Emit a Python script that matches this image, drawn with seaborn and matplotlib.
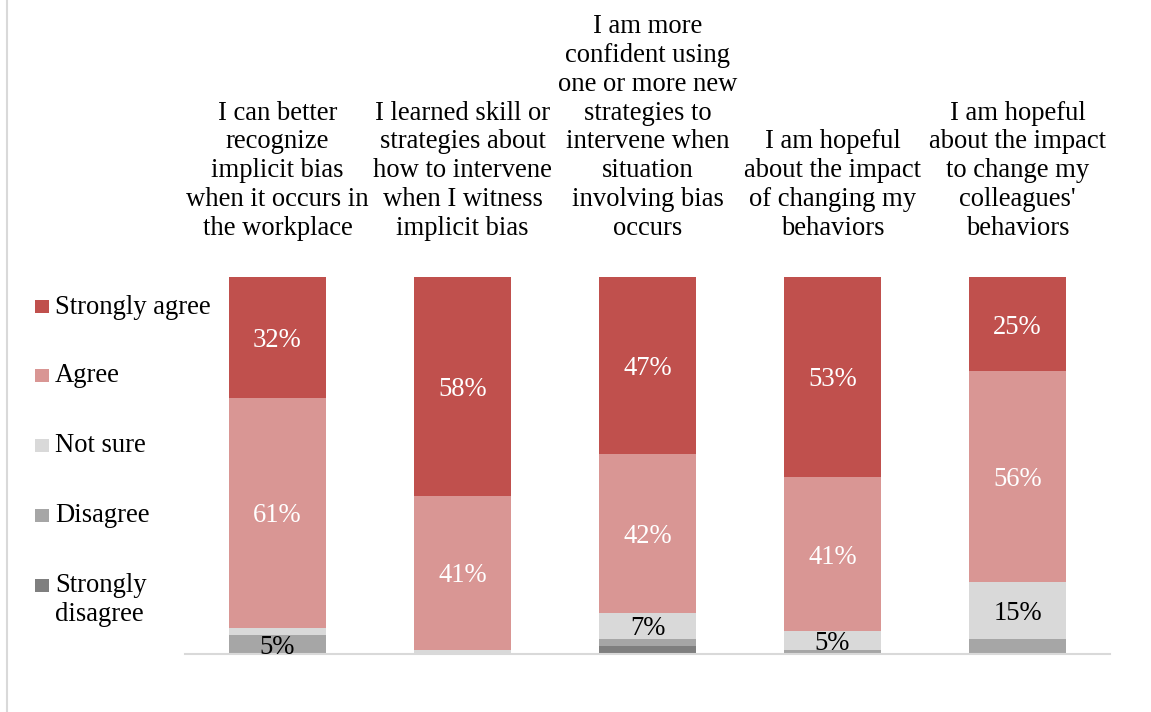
import matplotlib
matplotlib.use("Agg")
import matplotlib.pyplot as plt
from matplotlib.patches import Rectangle
from matplotlib.lines import Line2D
import seaborn as sns
import numpy as np

# Survey statements (one bar each)
statements = [
    "I can better\nrecognize\nimplicit bias\nwhen it occurs in\nthe workplace",
    "I learned skill or\nstrategies about\nhow to intervene\nwhen I witness\nimplicit bias",
    "I am more\nconfident using\none or more new\nstrategies to\nintervene when\nsituation\ninvolving bias\noccurs",
    "I am hopeful\nabout the impact\nof changing my\nbehaviors",
    "I am hopeful\nabout the impact\nto change my\ncolleagues'\nbehaviors",
]

# Response shares in percent, per statement
strongly_disagree = [0, 0, 2, 0, 0]
disagree = [5, 0, 2, 1, 4]
not_sure = [2, 1, 7, 5, 15]
agree = [61, 41, 42, 41, 56]
strongly_agree = [32, 58, 47, 53, 25]

levels = ["Strongly disagree", "Disagree", "Not sure", "Agree", "Strongly agree"]
series = [strongly_disagree, disagree, not_sure, agree, strongly_agree]
colors = ["#7F7F7F", "#A6A6A6", "#D9D9D9", "#D99694", "#C0504D"]
label_colors = ["black", "black", "black", "white", "white"]

sns.set_theme(style="white")
plt.rcParams["font.family"] = ["Liberation Serif", "DejaVu Serif"]
FS = 19.2

W, H = 1151, 712
fig = plt.figure(figsize=(W / 100, H / 100), dpi=100)
ax = fig.add_axes([185 / W, 1 - 654 / H, 925 / W, 377 / H])

cum = np.zeros(len(statements))
for name, vals, col, lcol in zip(levels, series, colors, label_colors):
    vals = np.asarray(vals, dtype=float)
    sns.barplot(x=list(range(len(statements))), y=vals, bottom=cum, color=col,
                width=0.525, errorbar=None, saturation=1, linewidth=0,
                ax=ax, label=name)
    cont = ax.containers[-1]
    labels = [f"{v:.0f}%" if v >= 5 else "" for v in vals]
    texts = ax.bar_label(cont, labels=labels, label_type="center", color=lcol,
                         fontsize=FS)
    for t in texts:
        t.set_va("center_baseline")
    cum += vals

ax.set_xlim(-0.5, len(statements) - 0.5)
ax.set_ylim(0, 100)
ax.set_yticks([])
ax.set_xticks(range(len(statements)))
ax.set_xticklabels(statements, fontsize=FS, color="black")
ax.xaxis.set_ticks_position("top")
ax.tick_params(axis="x", top=True, bottom=False, labeltop=True, labelbottom=False,
               length=0, pad=26)
ax.set_xlabel("")
ax.set_ylabel("")
for s in ["left", "right", "top"]:
    ax.spines[s].set_visible(False)
ax.spines["bottom"].set_color("#D9D9D9")
ax.spines["bottom"].set_linewidth(1.5)
if ax.get_legend() is not None:
    ax.get_legend().remove()

# Legend on the left, top entry first
legend_rows = [306.5, 375, 445, 515, 585]
for y, name, col in zip(legend_rows, levels[::-1], colors[::-1]):
    fig.patches.append(Rectangle((35 / W, 1 - (y + 6.5) / H), 13.5 / W, 13 / H,
                                 transform=fig.transFigure, facecolor=col,
                                 edgecolor="none"))
    if name == "Strongly disagree":
        # two lines: first line sits beside the marker
        fig.text(55 / W, 1 - (y + 7 + 29.3) / H, "Strongly\ndisagree", fontsize=FS,
                 va="baseline", ha="left", multialignment="left", color="black")
    else:
        fig.text(55 / W, 1 - (y + 7) / H, name, fontsize=FS, va="baseline",
                 ha="left", color="black")

# Chart-area border on the left
fig.add_artist(Line2D([7 / W, 7 / W], [0, 1], transform=fig.transFigure,
                      color="#D9D9D9", lw=1.5))

fig.savefig("out.png", dpi=100, facecolor="white")
